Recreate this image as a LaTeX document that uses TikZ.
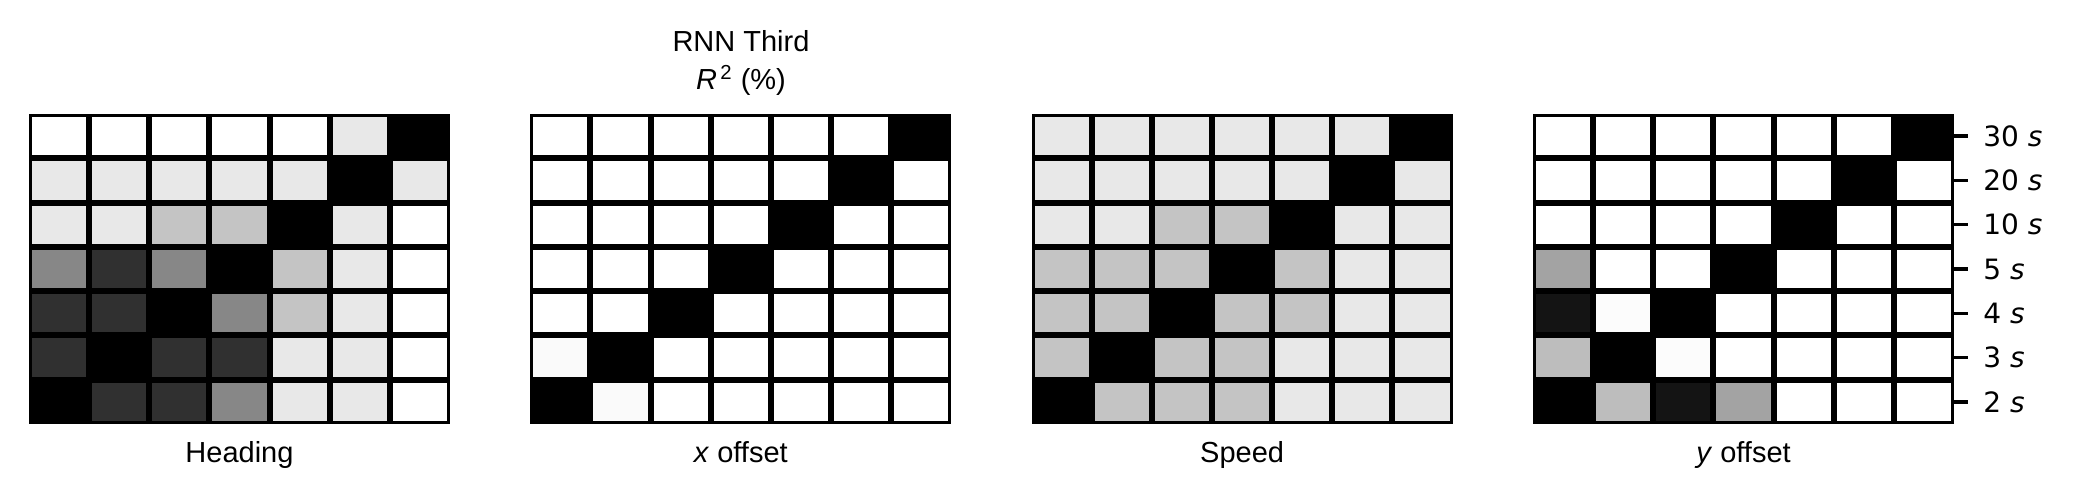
\documentclass[tikz,border=0pt]{standalone}
\usepackage{fontspec}
\setmainfont{Liberation Sans}
\newfontfamily\dejavu{DejaVu Sans}
\usetikzlibrary{positioning}

% one heat map: #1 left edge, #2 rows from top (percent of white)
\newcommand\heatmap[2]{%
	\fill (#1,114) rectangle ++(421,310);
	\foreach \row [count=\r] in {#2} {
		\foreach \v [count=\c] in \row
			\fill[cell=\v] ({#1+\c*60.14-57.14},{114+\r*44.29-41.29}) rectangle ({#1+\c*60.14-3},{114+\r*44.29-3});
	}}

\begin{document}
\begin{tikzpicture}[x=0.5pt,y=-0.5pt,
	cell/.style={fill=white!#1!black},
	axis label/.style={anchor=base,font=\fontsize{14.5}{17}\selectfont},
	tick label/.style={anchor=west,inner sep=0pt,font=\dejavu\fontsize{14}{17}\selectfont},
	tick/.style={line width=1.75pt}]
	\useasboundingbox (0,0) rectangle (2073,502);
	\heatmap{29}{{100,100,100,100,100,91,0},{91,91,91,91,91,0,91},{91,91,77,77,0,91,100},
		{53,19,53,0,77,91,100},{19,19,0,53,77,91,100},{19,0,19,19,91,91,100},{0,19,19,53,91,91,100}}
	\heatmap{530.3}{{100,100,100,100,100,100,0},{100,100,100,100,100,0,100},{100,100,100,100,0,100,100},
		{100,100,100,0,100,100,100},{100,100,0,100,100,100,100},{98,0,100,100,100,100,100},{0,98,100,100,100,100,100}}
	\heatmap{1031.6}{{91,91,91,91,91,91,0},{91,91,91,91,91,0,91},{91,91,77,77,0,91,91},
		{77,77,77,0,77,91,91},{77,77,0,77,77,91,91},{77,0,77,77,91,91,91},{0,77,77,77,91,91,91}}
	\heatmap{1533}{{100,100,100,100,100,100,0},{100,100,100,100,100,0,100},{100,100,100,100,0,100,100},
		{64,100,100,0,100,100,100},{8,99,0,100,100,100,100},{74,0,99,100,100,100,100},{0,74,8,64,100,100,100}}
	\node[axis label] (title) at (741,52) {RNN Third};
	\node[axis label] (rsq) at (741,90) {\textit{R}\textsuperscript{\,2} (\%)};
	\node[axis label] (heading) at (239.5,462) {Heading};
	\node[axis label] (xoff) at (740.8,462) {\textit{x} offset};
	\node[axis label] (speed) at (1242.1,462) {Speed};
	\node[axis label] (yoff) at (1743.5,462) {\textit{y} offset};
	\foreach \lab [count=\r] in {30,20,10,5,4,3,2} {
		\node[tick label] (t\r) at (1983,{114+\r*44.29-22.14}) {\lab~\textit{s}};
		\draw[tick] (1954,{114+\r*44.29-22.14}) -- ++(14,0);
	}
\end{tikzpicture}
\end{document}
